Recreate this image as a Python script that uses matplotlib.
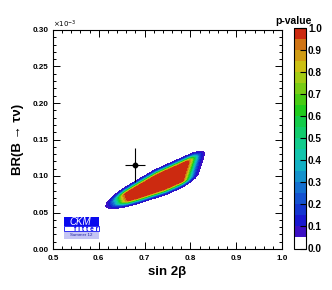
import numpy as np
import matplotlib
matplotlib.use('Agg')
import matplotlib.pyplot as plt
from matplotlib.patches import Rectangle
from matplotlib.ticker import MultipleLocator, FormatStrFormatter

plt.rcParams['font.family'] = ['Liberation Sans', 'DejaVu Sans']

# measured point, BR in units of 1e-3
meas_x = [0.679]
meas_xerr = [0.021]
meas_y = [0.115]
meas_yerr = [0.023]

# palette bands of the p-value scale
p_levels = [0.00, 0.05, 0.10, 0.15, 0.20, 0.25, 0.30, 0.35, 0.40, 0.45, 0.50,
            0.55, 0.60, 0.65, 0.70, 0.75, 0.80, 0.85, 0.90, 0.95, 1.00]
p_colors = ['#ffffff', '#3c10c4', '#1818d0', '#1436d0', '#1452d0', '#1470d0',
            '#1492cc', '#12b0c4', '#12c4ac', '#12cc8c', '#12cc6c', '#14cc4a',
            '#20cc1c', '#48cc14', '#78cc14', '#a4cc14', '#ccc014', '#d09c14',
            '#d07414', '#cc2a10']
p_ticks = [0.0, 0.1, 0.2, 0.3, 0.4, 0.5, 0.6, 0.7, 0.8, 0.9, 1.0]

# fit region: tip and far end of the band (sin2b, BR)
band_tip = [0.6157, 0.0582]
band_end = [0.8231, 0.1164]
band_cut_x = 0.7854          # plateau stops here in sin2b
band_knots_t = [0, 15, 32, 60, 110]     # along the band (axis pixels)
band_knots_w = [0, 1.8, 4.2, 7.2, 7.2]  # plateau half width
band_start_t = 25.3
sig_long, sig_cut, sig_perp = 10.3, 7.3, 2.6
cut_slant = 0.4

W_PX, H_PX = 229.0, 219.0


def to_px(x, y):
    return (np.asarray(x) - 0.5) / 0.5 * W_PX, np.asarray(y) / 0.3 * H_PX


xg = np.linspace(0.5, 1.0, 1000)
yg = np.linspace(0.0, 0.3, 1000)
XD, YD = np.meshgrid(xg, yg)
X, Y = to_px(XD, YD)
ax0, ay0 = to_px(*band_tip)
bx0, by0 = to_px(*band_end)
L = np.hypot(bx0 - ax0, by0 - ay0)
ux, uy = (bx0 - ax0) / L, (by0 - ay0) / L
t = (X - ax0) * ux + (Y - ay0) * uy
s = -(X - ax0) * uy + (Y - ay0) * ux
w = np.interp(t, band_knots_t, band_knots_w)
xcut, _ = to_px(band_cut_x, 0)
chi2 = ((np.maximum(band_start_t - t, 0) / sig_long) ** 2
        + (np.maximum(X - cut_slant * s - xcut, 0) / sig_cut) ** 2
        + (np.maximum(np.abs(s) - w, 0) / sig_perp) ** 2)
P = np.clip(np.exp(-chi2 / 2), 0, 1)

fig = plt.figure(figsize=(3.32, 2.90), dpi=100)
ax = fig.add_axes([53 / 332, 41 / 290, 229 / 332, 219 / 290])
cax = fig.add_axes([294 / 332, 41.5 / 290, 12 / 332, 220.5 / 290])

cs = ax.contourf(XD, YD, P, levels=p_levels, colors=p_colors)

ax.errorbar(meas_x, meas_y, xerr=meas_xerr, yerr=meas_yerr, fmt='o',
            color='black', ms=3.2, elinewidth=0.8, capsize=0, zorder=5)

ax.set_xlim(0.5, 1.0)
ax.set_ylim(0.0, 0.3)
ax.xaxis.set_major_locator(MultipleLocator(0.1))
ax.xaxis.set_minor_locator(MultipleLocator(0.02))
ax.yaxis.set_major_locator(MultipleLocator(0.05))
ax.yaxis.set_minor_locator(MultipleLocator(0.01))
ax.xaxis.set_major_formatter(FormatStrFormatter('%.1f'))
ax.yaxis.set_major_formatter(FormatStrFormatter('%.2f'))
ax.tick_params(which='both', direction='in', top=True, right=True, width=0.7)
ax.tick_params(which='major', length=5, labelsize=5.8, pad=3)
ax.tick_params(which='minor', length=2.5)
ax.tick_params(axis='x', which='major', pad=4)
for lab in ax.get_xticklabels() + ax.get_yticklabels():
    lab.set_fontweight('bold')
for sp in ax.spines.values():
    sp.set_linewidth(0.8)

ax.set_xlabel('sin 2\u03b2', fontsize=9.5, fontweight='bold', labelpad=3)
ax.set_ylabel('BR(B \u2192 \u03c4\u03bd)', fontsize=9.5, fontweight='bold', labelpad=6)
ax.text(0.0, 1.0, r'$\times10^{-3}$', transform=ax.transAxes, fontsize=5,
        ha='left', va='bottom')

# CKMfitter logo
ax.add_patch(Rectangle((0.048, 0.103), 0.153, 0.043, transform=ax.transAxes,
                       facecolor='#0a0aee', edgecolor='none', zorder=6))
ax.add_patch(Rectangle((0.048, 0.080), 0.153, 0.023, transform=ax.transAxes,
                       facecolor='white', edgecolor='#0a0aee', lw=0.6, zorder=6))
ax.add_patch(Rectangle((0.048, 0.046), 0.153, 0.032, transform=ax.transAxes,
                       facecolor='#c4c4f4', edgecolor='none', zorder=6))
ax.text(0.07, 0.125, 'CKM', transform=ax.transAxes, color='white', fontsize=7,
        style='italic', ha='left', va='center', zorder=7)
ax.text(0.196, 0.091, 'f i t t e r', transform=ax.transAxes, color='#0a0aee',
        fontsize=4.8, fontweight='bold', ha='right', va='center', zorder=7)
ax.text(0.124, 0.062, 'Summer 12', transform=ax.transAxes, color='#2020a0',
        fontsize=3.2, ha='center', va='center', zorder=7)

cb = fig.colorbar(cs, cax=cax, ticks=p_ticks)
cb.outline.set_linewidth(0.8)
cax.yaxis.set_major_formatter(FormatStrFormatter('%.1f'))
cax.tick_params(direction='in', length=4, width=0.8, labelsize=7.2, pad=1.5)
for lab in cax.get_yticklabels():
    lab.set_fontweight('bold')
fig.text(293 / 332, 264 / 290, 'p-value', fontsize=7.5, fontweight='bold',
         ha='center', va='bottom')

fig.savefig('out.png', dpi=100)
